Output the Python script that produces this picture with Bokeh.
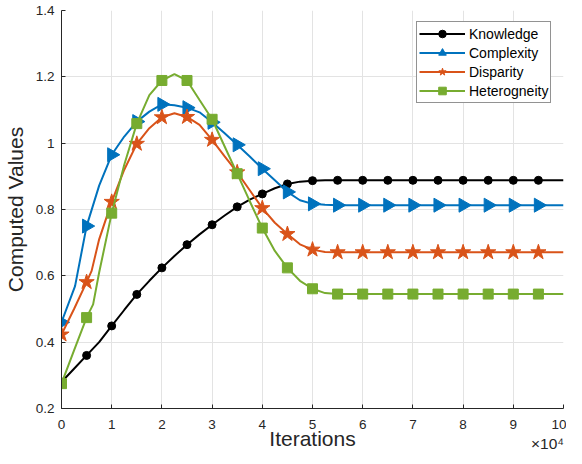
from bokeh.plotting import figure
from bokeh.models import FixedTicker, CustomJSTickFormatter, LinearAxis, Range1d
from bokeh.embed import file_html
from bokeh.resources import INLINE

# ---- data (iterations; the axis shows them in units of 10^4) ----
marker_x = [0, 5000, 10000, 15000, 20000, 25000, 30000, 35000, 40000, 45000,
            50000, 55000, 60000, 65000, 70000, 75000, 80000, 85000, 90000, 95000]

knowledge_marks = [0.280, 0.360, 0.449, 0.544, 0.624, 0.694, 0.754, 0.808, 0.847, 0.877,
                   0.887, 0.888, 0.888, 0.888, 0.888, 0.888, 0.888, 0.888, 0.888, 0.888]
complexity_marks = [0.460, 0.750, 0.965, 1.065, 1.117, 1.107, 1.063, 0.995, 0.923, 0.853,
                    0.817, 0.813, 0.813, 0.813, 0.813, 0.813, 0.813, 0.813, 0.813, 0.813]
disparity_marks = [0.423, 0.581, 0.823, 0.998, 1.078, 1.079, 1.010, 0.912, 0.804, 0.726,
                   0.679, 0.671, 0.671, 0.671, 0.671, 0.671, 0.671, 0.671, 0.671, 0.671]
hetero_marks = [0.275, 0.474, 0.789, 1.059, 1.189, 1.189, 1.072, 0.908, 0.744, 0.624,
                0.561, 0.545, 0.545, 0.545, 0.545, 0.545, 0.545, 0.545, 0.545, 0.545]

knowledge_lx = [0, 2500, 5000, 7500, 10000, 12500, 15000, 17500, 20000, 22500, 25000, 27500,
                30000, 32500, 35000, 37500, 40000, 42500, 45000, 47500, 50000, 52500, 55000,
                60000, 70000, 80000, 90000, 100000]
knowledge_ly = [0.280, 0.320, 0.360, 0.400, 0.449, 0.497, 0.544, 0.585, 0.624, 0.660, 0.694, 0.725,
                0.754, 0.782, 0.808, 0.830, 0.847, 0.864, 0.877, 0.884, 0.887, 0.888, 0.888,
                0.888, 0.888, 0.888, 0.888, 0.888]

complexity_lx = [0, 2700, 5000, 7500, 10000, 12500, 15000, 17500, 20000, 22500, 25000, 27500,
                 30000, 32500, 35000, 37500, 40000, 42500, 45000, 47500, 50000, 52500, 55000,
                 60000, 70000, 80000, 90000, 100000]
complexity_ly = [0.460, 0.569, 0.750, 0.872, 0.965, 1.020, 1.065, 1.095, 1.117, 1.114, 1.107, 1.093,
                 1.063, 1.030, 0.995, 0.960, 0.923, 0.888, 0.853, 0.828, 0.817, 0.814, 0.813,
                 0.813, 0.813, 0.813, 0.813, 0.813]

disparity_lx = [0, 2500, 5000, 6000, 7500, 10000, 12500, 15000, 17500, 20000, 22500, 25000, 27500,
                30000, 32500, 35000, 37500, 40000, 42500, 45000, 47500, 50000, 52500, 55000,
                60000, 70000, 80000, 90000, 100000]
disparity_ly = [0.423, 0.500, 0.581, 0.615, 0.710, 0.823, 0.920, 0.998, 1.045, 1.078, 1.090, 1.079, 1.055,
                1.010, 0.960, 0.912, 0.858, 0.804, 0.760, 0.726, 0.695, 0.679, 0.672, 0.671,
                0.671, 0.671, 0.671, 0.671, 0.671]

hetero_lx = [0, 2500, 5000, 6300, 7500, 10000, 12500, 15000, 17500, 20000, 22500, 25000, 27500,
             30000, 32500, 35000, 37500, 40000, 42500, 45000, 47500, 50000, 52500, 55000,
             60000, 70000, 80000, 90000, 100000]
hetero_ly = [0.275, 0.375, 0.474, 0.514, 0.610, 0.789, 0.935, 1.059, 1.145, 1.189, 1.208, 1.189, 1.130,
             1.072, 0.990, 0.908, 0.825, 0.744, 0.675, 0.624, 0.585, 0.561, 0.548, 0.545,
             0.545, 0.545, 0.545, 0.545, 0.545]

x_ticks = [0, 10000, 20000, 30000, 40000, 50000, 60000, 70000, 80000, 90000, 100000]
y_ticks = [0.2, 0.4, 0.6, 0.8, 1.0, 1.2, 1.4]
mult_at = [96800]          # where the "x10^4" multiplier label sits
mult_text = "\u00d710\u2074"

FONT = "Liberation Sans"
DARK = "#262626"

p = figure(width=566, height=454, output_backend="svg", toolbar_location=None,
           x_range=Range1d(0, 100000), y_range=Range1d(0.2, 1.4),
           min_border_left=55, min_border_right=3, min_border_top=10, min_border_bottom=40)
p.outline_line_color = None

series = [
    ("Knowledge", "#000000", knowledge_lx, knowledge_ly, knowledge_marks, "circle", 8, 0),
    ("Complexity", "#0072BD", complexity_lx, complexity_ly, complexity_marks, "triangle", 14, -1.5708),
    ("Disparity", "#D95319", disparity_lx, disparity_ly, disparity_marks, "star", 16, 0),
    ("Heterogneity", "#77AC30", hetero_lx, hetero_ly, hetero_marks, "square", 10, 0),
]
for name, col, lx, ly, my, mk, sz, ang in series:
    p.line(lx, ly, line_color=col, line_width=2, legend_label=name)
    p.scatter(marker_x, my, marker=mk, size=sz, angle=ang, fill_color=col, line_color=col,
              legend_label=name)

for ax in (p.xaxis[0], p.yaxis[0]):
    ax.axis_line_color = DARK
    ax.major_tick_line_color = DARK
    ax.major_tick_in = 4
    ax.major_tick_out = 0
    ax.minor_tick_line_color = None
    ax.major_label_text_font = FONT
    ax.major_label_text_font_size = "13.5px"
    ax.major_label_text_color = DARK
    ax.axis_label_text_font = FONT
    ax.axis_label_text_font_size = "21px"
    ax.axis_label_text_font_style = "normal"
    ax.axis_label_text_color = DARK

p.xaxis[0].ticker = FixedTicker(ticks=x_ticks)
p.xaxis[0].formatter = CustomJSTickFormatter(code="return String(Math.round(tick/10000));")
p.yaxis[0].ticker = FixedTicker(ticks=y_ticks)
p.yaxis[0].formatter = CustomJSTickFormatter(code="return String(Math.round(tick*10)/10);")
p.xaxis[0].axis_label = "Iterations"
p.yaxis[0].axis_label = "Computed Values"
p.xaxis[0].major_label_standoff = 11
p.yaxis[0].major_label_standoff = 7
p.xaxis[0].axis_label_standoff = -5
p.yaxis[0].axis_label_standoff = 6

# "x10^4" multiplier, drawn by a label-only axis pulled up into the label row
mult = LinearAxis(ticker=FixedTicker(ticks=mult_at),
                  formatter=CustomJSTickFormatter(code="return '%s';" % mult_text))
mult.axis_line_color = None
mult.major_tick_line_color = None
mult.minor_tick_line_color = None
mult.major_tick_in = 0
mult.major_tick_out = 0
mult.major_label_standoff = -18
mult.major_label_text_font = FONT
mult.major_label_text_font_size = "15.5px"
mult.major_label_text_color = DARK
p.add_layout(mult, "below")

p.xgrid.ticker = FixedTicker(ticks=x_ticks)
p.ygrid.ticker = FixedTicker(ticks=y_ticks)
p.grid.grid_line_color = "#e3e3e3"
p.grid.grid_line_width = 1

lg = p.legend[0]
lg.location = (355, 305)
lg.label_text_font = FONT
lg.label_text_font_size = "14px"
lg.label_text_color = "#000000"
lg.border_line_color = "#262626"
lg.border_line_width = 1
lg.background_fill_color = "white"
lg.background_fill_alpha = 1
lg.padding = 2
lg.spacing = 0
lg.glyph_height = 19
lg.label_height = 19
lg.glyph_width = 46
lg.label_standoff = 4
lg.margin = 0

open("out.html", "w").write(file_html(p, INLINE))
